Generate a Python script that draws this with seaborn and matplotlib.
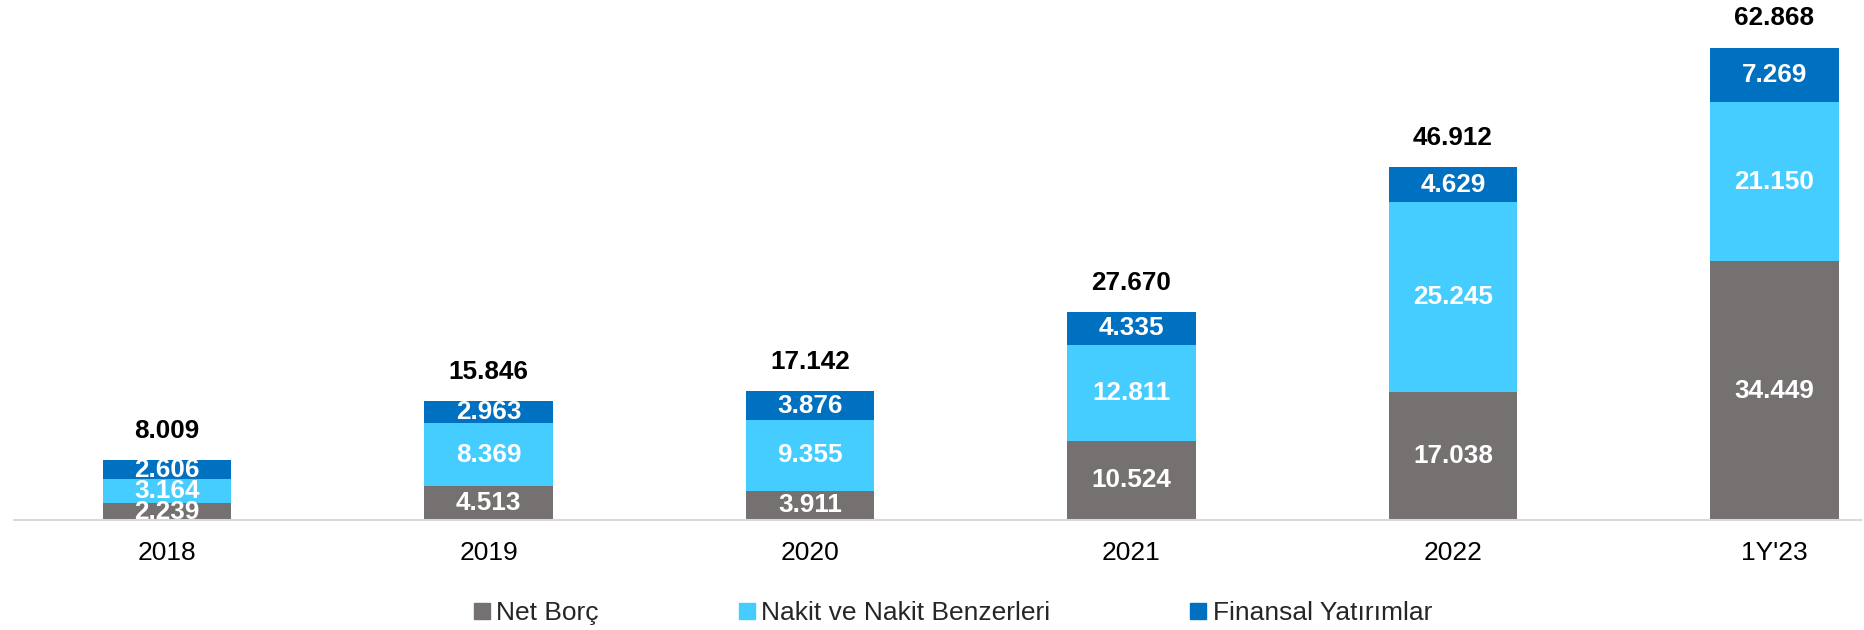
import pandas as pd
import numpy as np
import matplotlib.pyplot as plt
import seaborn as sns
from matplotlib.lines import Line2D

sns.set_theme(style="white")
plt.rcParams['font.family'] = ['Liberation Sans', 'DejaVu Sans']

# data
years = ["2018", "2019", "2020", "2021", "2022", "1Y'23"]
net_borc = [2239, 4513, 3911, 10524, 17038, 34449]
nakit = [3164, 8369, 9355, 12811, 25245, 21150]
finansal = [2606, 2963, 3876, 4335, 4629, 7269]
totals = [8009, 15846, 17142, 27670, 46912, 62868]
series_names = ["Net Borç", "Nakit ve Nakit Benzerleri", "Finansal Yatırımlar"]
colors = ["#767171", "#45CDFF", "#0070C0"]

df = pd.DataFrame({"year": years, "net": net_borc, "nakit": nakit, "fin": finansal})
df["lvl1"] = df["net"]
df["lvl2"] = df["net"] + df["nakit"]
df["lvl3"] = df["lvl2"] + df["fin"]


def fmt(v):
    return f"{v:,}".replace(",", ".")


fig = plt.figure(figsize=(18.65, 6.3), dpi=100)
ax = fig.add_axes([0.0075, 0.1746, 0.9905, 0.8254])

# stacked bars: draw tallest first, then overlay lower stacks
for col, c in zip(["lvl3", "lvl2", "lvl1"], colors[::-1]):
    sns.barplot(data=df, x="year", y=col, color=c, width=0.4,
                saturation=1, ax=ax, linewidth=0)

# segment labels + totals
for i in range(len(years)):
    bottoms = [0, df["lvl1"][i], df["lvl2"][i]]
    vals = [net_borc[i], nakit[i], finansal[i]]
    for b, v in zip(bottoms, vals):
        ax.text(i, b + v / 2, fmt(v), ha="center", va="center",
                color="white", fontsize=18.8, fontweight="bold")
    ax.annotate(fmt(totals[i]), (i, df["lvl3"][i]),
                xytext=(0, 21), textcoords="offset points", ha="center", va="center",
                color="black", fontsize=18.8, fontweight="bold")

ax.set_xlim(-0.476, 5.27)
ax.set_ylim(0, 69200)
ax.set_xlabel("")
ax.set_ylabel("")
ax.set_yticks([])
ax.tick_params(axis="x", length=0, pad=15, labelsize=19, colors="black")
for s in ["top", "right", "left"]:
    ax.spines[s].set_visible(False)
ax.spines["bottom"].set_color("#d9d9d9")
ax.spines["bottom"].set_linewidth(1.5)
ax.spines["bottom"].set_zorder(5)

handles = [Line2D([], [], marker="s", linestyle="", color=c, markersize=11) for c in colors]
fig.legend(handles, series_names, loc="center", bbox_to_anchor=(0.511, 0.027), ncol=3,
           frameon=False, fontsize=19, handlelength=0.6, handletextpad=0.25,
           columnspacing=5.3)

fig.savefig("out.png", dpi=100)
